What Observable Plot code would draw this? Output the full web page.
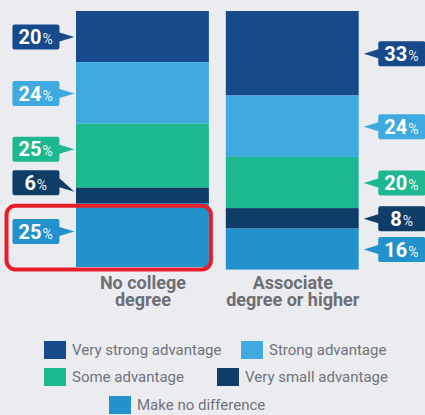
<!DOCTYPE html>
<html><head><meta charset="utf-8">
<script src="https://cdn.jsdelivr.net/npm/d3@7"></script>
<script src="https://cdn.jsdelivr.net/npm/@observablehq/plot@0.6"></script>
<style>
html,body{margin:0;padding:0;background:#ebecf0;}
#wrap{width:425px;height:415px;position:relative;overflow:hidden;background:#ebecf0;font-family:Roboto,sans-serif;}
#legend{position:absolute;left:0;top:0;width:425px;height:415px;pointer-events:none;}
.item{position:absolute;display:flex;align-items:center;height:18px;}
.sw{width:22px;height:18px;margin-right:6px;}
.lab{font-size:15px;color:#6f737b;white-space:nowrap;}
</style></head>
<body><div id="wrap"><div id="chart"></div><div id="legend"></div></div>
<script>
// ---------- data ----------
const groups = ["No college degree", "Associate degree or higher"];
const groupTickLabels = ["No college\ndegree", "Associate\ndegree or higher"];
const series = ["Very strong advantage", "Strong advantage", "Some advantage", "Very small advantage", "Make no difference"];
const noCollegeValues = [20, 24, 25, 6, 25];
const associateValues = [33, 24, 20, 8, 16];
const seriesColors = ["#164a8b", "#3eaae0", "#1db88f", "#0e3d68", "#2192cb"];
const highlighted = {group: "No college degree", series: "Make no difference"};

// ---------- layout (pixels) ----------
const leftBoxNudge = [0, 0, -7, -13, -4];   // box centre offset from segment middle
const leftTipNudge = [0, 0, 0, 9, 0];       // pointer tip offset from box centre
const legendPos = [[44, 341], [241, 341], [44, 368], [217, 368], [109, 396]];

// ---------- build rows ----------
const valuesByGroup = [noCollegeValues, associateValues];
const rows = [];
groups.forEach((g, gi) => {
  let acc = 0;
  series.forEach((s, si) => {
    const v = valuesByGroup[gi][si];
    rows.push({group: g, series: s, value: v, gi, si, y1: acc, y2: acc + v, mid: acc + v / 2, color: seriesColors[si]});
    acc += v;
  });
});

function callout(w, h, r, tipX, tipY, side) {
  return {
    draw(ctx) {
      const x0 = -w / 2, x1 = w / 2, y0 = -h / 2, y1 = h / 2, b = 4.5;
      ctx.moveTo(x0 + r, y0);
      ctx.lineTo(x1 - r, y0);
      ctx.arcTo(x1, y0, x1, y0 + r, r);
      if (side === "right") { ctx.lineTo(x1, -b); ctx.lineTo(tipX, tipY); ctx.lineTo(x1, b); }
      ctx.lineTo(x1, y1 - r);
      ctx.arcTo(x1, y1, x1 - r, y1, r);
      ctx.lineTo(x0 + r, y1);
      ctx.arcTo(x0, y1, x0, y1 - r, r);
      if (side === "left") { ctx.lineTo(x0, b); ctx.lineTo(tipX, tipY); ctx.lineTo(x0, -b); }
      ctx.lineTo(x0, y0 + r);
      ctx.arcTo(x0, y0, x0 + r, y0, r);
      ctx.closePath();
    }
  };
}

const marks = [
  Plot.barY(rows, {x: "group", y1: "y1", y2: "y2", fill: "series"}),
  Plot.barY(rows.filter(d => d.group === highlighted.group && d.series === highlighted.series), {
    x: "group", y1: "y1", y2: "y2", fill: "none", stroke: "#e61e2a", strokeWidth: 4, rx: 9,
    insetLeft: -69.5, insetRight: -2, insetTop: 2.7, insetBottom: -2.5
  }),
  Plot.axisX({tickSize: 0, tickPadding: 7, label: null, tickFormat: d => groupTickLabels[groups.indexOf(d)],
    fontSize: 18, fontWeight: 700, color: "#6d6f72", lineHeight: 0.93})
];

for (const r of rows) {
  const left = r.gi === 0;
  const i = r.si;
  const nudge = left ? leftBoxNudge[i] : 0;
  const tipY = left ? leftTipNudge[i] : 0;
  const bx = left ? -107 : 109;
  const tipX = left ? 38.5 : -38;
  marks.push(Plot.dot([r], {x: "group", y: "mid", dx: bx, dy: nudge, r: 5, fill: r.color,
    symbol: callout(47, 25, 2, tipX, tipY, left ? "right" : "left")}));
  const n = String(r.value).length;
  const gw = n * 11.3 + 1 + 10.5;
  const join = bx - gw / 2 + n * 11.3;
  marks.push(Plot.text([r], {x: "group", y: "mid", text: d => String(d.value), dx: join, dy: nudge + 0.8,
    fontSize: 20, fontWeight: 700, fill: "white", textAnchor: "end"}));
  marks.push(Plot.text([r], {x: "group", y: "mid", text: () => "%", dx: join + 1, dy: nudge + 2.7,
    fontSize: 14, fill: "white", fillOpacity: 0.92, textAnchor: "start"}));
}

const chart = Plot.plot({
  width: 425, height: 324.56,
  marginTop: 11, marginBottom: 55, marginLeft: 0, marginRight: 0,
  style: {fontFamily: "Roboto, sans-serif", background: "transparent", overflow: "visible"},
  x: {domain: groups, range: [76, 358.7], paddingInner: 0.113, paddingOuter: 0, round: false, axis: null, label: null},
  y: {domain: [0, 101], reverse: true, axis: null},
  color: {domain: series, range: seriesColors},
  marks
});
document.getElementById("chart").appendChild(chart);

// ---------- legend ----------
const leg = document.getElementById("legend");
series.forEach((s, i) => {
  const it = document.createElement("div");
  it.className = "item";
  it.style.left = legendPos[i][0] + "px";
  it.style.top = legendPos[i][1] + "px";
  const sw = document.createElement("div");
  sw.className = "sw"; sw.style.background = seriesColors[i];
  const lb = document.createElement("span");
  lb.className = "lab"; lb.textContent = s;
  it.appendChild(sw); it.appendChild(lb);
  leg.appendChild(it);
});
</script>
</body></html>
